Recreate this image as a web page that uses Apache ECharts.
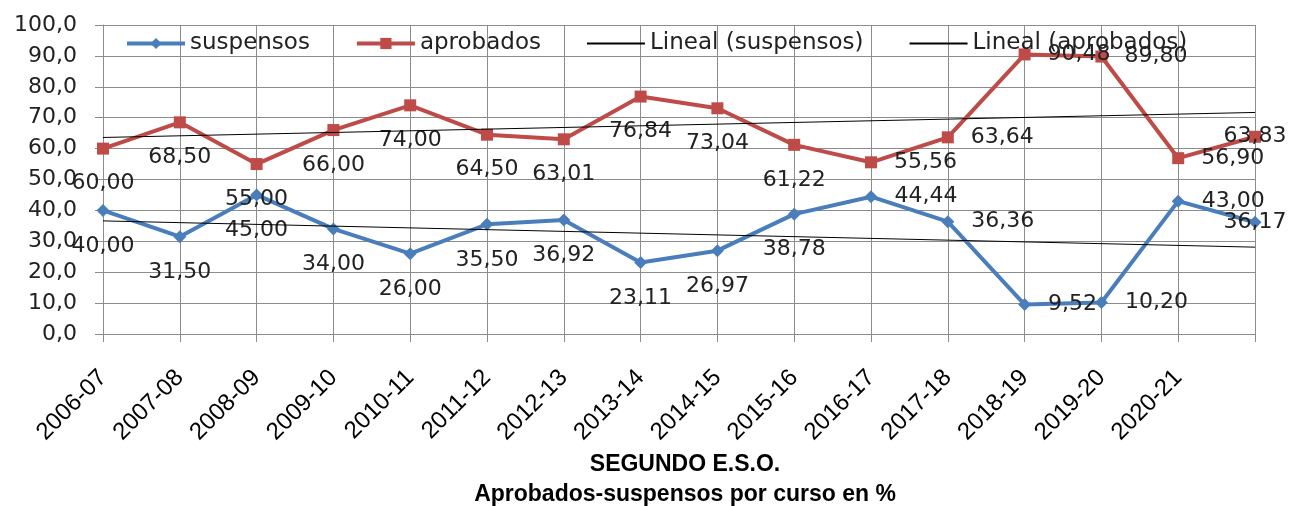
<!DOCTYPE html>
<html>
<head>
<meta charset="utf-8">
<script src="https://cdn.jsdelivr.net/npm/echarts@6/dist/echarts.min.js"></script>
<style>
  html, body { margin: 0; padding: 0; background: #fff; }
  #chart { width: 1290px; height: 506px; }
</style>
</head>
<body>
<div id="chart"></div>
<script>
// courses (the last point has no label in the original)
const cursos = ['2006-07', '2007-08', '2008-09', '2009-10', '2010-11', '2011-12', '2012-13',
  '2013-14', '2014-15', '2015-16', '2016-17', '2017-18', '2018-19', '2019-20', '2020-21', ''];
const suspensos = [40.00, 31.50, 45.00, 34.00, 26.00, 35.50, 36.92, 23.11, 26.97, 38.78,
  44.44, 36.36, 9.52, 10.20, 43.00, 36.17];
const aprobados = [60.00, 68.50, 55.00, 66.00, 74.00, 64.50, 63.01, 76.84, 73.04, 61.22,
  55.56, 63.64, 90.48, 89.80, 56.90, 63.83];
// trend line end values
const linealSuspensos = [36.6, 28.1];
const linealAprobados = [63.6, 71.7];
const yTicks = [0, 10, 20, 30, 40, 50, 60, 70, 80, 90, 100];

const font = 'DejaVu Sans';
const last = cursos.length - 1;

// label placement like the excel chart: below, then right of the point, last one centred
function withLabels(values) {
  return values.map(function (v, i) {
    let label;
    if (i === last) label = { position: 'inside', distance: 0 };
    else if (i >= 10) label = { position: 'right', distance: 17 };
    return label ? { value: v, label: label } : v;
  });
}

const fmt = v => v.toFixed(2).replace('.', ',');

const chart = echarts.init(document.getElementById('chart'));
chart.setOption({
  animation: false,
  title: {
    text: 'SEGUNDO E.S.O.\nAprobados-suspensos por curso en %',
    left: 680,
    top: 445,
    textAlign: 'center',
    textStyle: { fontFamily: 'Liberation Sans', fontSize: 23, fontWeight: 'bold', color: '#000', lineHeight: 30 }
  },
  legend: {
    left: 120,
    top: 27,
    itemWidth: 58,
    itemHeight: 14,
    itemGap: 45,
    textStyle: { fontFamily: font, fontSize: 23, color: '#222' },
    data: [
      { name: 'suspensos', lineStyle: { width: 4 } },
      { name: 'aprobados', lineStyle: { width: 4 } },
      { name: 'Lineal (suspensos)', itemStyle: { opacity: 0 } },
      { name: 'Lineal (aprobados)', itemStyle: { opacity: 0 } }
    ]
  },
  grid: { left: 103, right: 35, top: 25, bottom: 172, containLabel: false },
  xAxis: {
    type: 'category',
    data: cursos,
    boundaryGap: false,
    axisLine: { lineStyle: { color: '#8c8c8c', width: 1 } },
    axisTick: { show: true, length: 8, lineStyle: { color: '#8c8c8c' } },
    splitLine: { show: true, lineStyle: { color: '#8c8c8c', width: 1 } },
    axisLabel: {
      interval: 0, rotate: 45, margin: 40,
      fontFamily: 'Liberation Sans', fontSize: 24, color: '#000'
    }
  },
  yAxis: {
    type: 'value',
    min: yTicks[0],
    max: yTicks[yTicks.length - 1],
    interval: yTicks[1] - yTicks[0],
    axisLine: { show: true, lineStyle: { color: '#8c8c8c', width: 1 } },
    axisTick: { show: true, length: 8, lineStyle: { color: '#8c8c8c' } },
    splitLine: { show: true, lineStyle: { color: '#8c8c8c', width: 1 } },
    axisLabel: {
      margin: 26,
      fontFamily: font, fontSize: 22, color: '#222',
      formatter: v => v.toFixed(1).replace('.', ',')
    }
  },
  series: [
    {
      name: 'suspensos',
      type: 'line',
      data: withLabels(suspensos),
      symbol: 'diamond',
      symbolSize: 13,
      color: '#4a7ebb',
      lineStyle: { width: 4, color: '#4a7ebb' },
      z: 3,
      label: {
        show: true, position: 'bottom', distance: 18,
        fontFamily: font, fontSize: 22, color: '#222',
        formatter: p => fmt(p.value)
      }
    },
    {
      name: 'aprobados',
      type: 'line',
      data: withLabels(aprobados),
      symbol: 'rect',
      symbolSize: 12,
      color: '#be4b48',
      lineStyle: { width: 4, color: '#be4b48' },
      z: 3,
      label: {
        show: true, position: 'bottom', distance: 18,
        fontFamily: font, fontSize: 22, color: '#222',
        formatter: p => fmt(p.value)
      }
    },
    {
      name: 'Lineal (suspensos)',
      type: 'line',
      data: [[0, linealSuspensos[0]], [last, linealSuspensos[1]]],
      symbol: 'none',
      color: '#000',
      lineStyle: { width: 1, color: '#000' },
      z: 4,
      silent: true
    },
    {
      name: 'Lineal (aprobados)',
      type: 'line',
      data: [[0, linealAprobados[0]], [last, linealAprobados[1]]],
      symbol: 'none',
      color: '#000',
      lineStyle: { width: 1, color: '#000' },
      z: 4,
      silent: true
    }
  ]
});
</script>
</body>
</html>
